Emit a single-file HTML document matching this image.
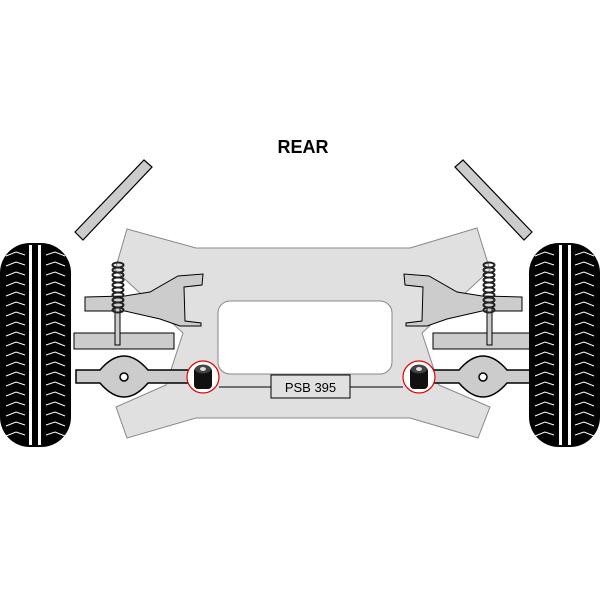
<!DOCTYPE html>
<html><head><style>body{margin:0;background:#fff}svg{display:block}</style></head><body>
<svg width="600" height="600" viewBox="0 0 600 600" xmlns="http://www.w3.org/2000/svg">
<defs>
<g id="tire">
<rect x="0" y="243" width="71" height="204" rx="30" fill="#000"/>
<rect x="29" y="245" width="3" height="200" fill="#fff"/>
<rect x="38" y="245" width="3" height="200" fill="#fff"/>
</g>
<g id="half">
<polygon points="75,232 144,160 152,167 83,240" fill="#ccc" stroke="#000" stroke-width="1.2"/>
<polygon points="85,297 125,296 150,292 178,276 203,274 202,285 184,287 185,321 201,323 201,326 180,326 160,319 125,311 85,311" fill="#ccc" stroke="#000" stroke-width="1"/>
<rect x="74" y="333" width="100" height="16" fill="#ccc" stroke="#000" stroke-width="1"/>
<rect x="115" y="308" width="5" height="37" fill="#ccc" stroke="#000" stroke-width="1"/>
<g fill="none" stroke="#222" stroke-width="2">
<ellipse cx="118" cy="265" rx="5.5" ry="2.5"/><ellipse cx="118" cy="270" rx="5.5" ry="2.5"/>
<ellipse cx="118" cy="275" rx="5.5" ry="2.5"/><ellipse cx="118" cy="280" rx="5.5" ry="2.5"/>
<ellipse cx="118" cy="285" rx="5.5" ry="2.5"/><ellipse cx="118" cy="290" rx="5.5" ry="2.5"/>
<ellipse cx="118" cy="295" rx="5.5" ry="2.5"/><ellipse cx="118" cy="300" rx="5.5" ry="2.5"/>
<ellipse cx="118" cy="305" rx="5.5" ry="2.5"/><ellipse cx="118" cy="310" rx="5.5" ry="2.5"/>
</g>
<path d="M76 370 L100 370 Q112 356 124 356 Q136 356 148 370 L190 370 L190 383 L148 383 Q136 397 124 397 Q112 397 100 383 L76 383 Z" fill="#ccc" stroke="#000" stroke-width="1.5"/>
<circle cx="124" cy="377" r="4" fill="#fff" stroke="#000" stroke-width="1.5"/>
</g>
<g id="bush">
<circle cx="0" cy="0" r="16" fill="#fff" stroke="#d00" stroke-width="1.2"/>
<rect x="-9" y="-10" width="18" height="22" rx="4" fill="#111"/>
<ellipse cx="0" cy="-8" rx="8" ry="4.5" fill="#444"/>
<ellipse cx="0" cy="-8" rx="3" ry="2" fill="#ddd"/>
</g>
</defs>
<text x="303" y="153" font-family="Liberation Sans, sans-serif" font-weight="bold" font-size="18" text-anchor="middle">REAR</text>
<path d="M127,229 L196,248 L410,248 L477,228 L490,270 L422,333 L439,385 L490,407 L478,438 L410,418 L196,418 L127,438 L116,407 L166,385 L183,333 L115,270 Z" fill="#e0e0e0" stroke="#888" stroke-width="1"/>
<rect x="218" y="301" width="174" height="73" rx="12" fill="#fff" stroke="#888" stroke-width="1"/>
<line x1="219" y1="387" x2="403" y2="387" stroke="#000" stroke-width="1"/>
<rect x="271" y="375" width="79" height="23" fill="#e0e0e0" stroke="#000" stroke-width="1"/>
<text x="310.5" y="392" font-family="Liberation Sans, sans-serif" font-size="13" text-anchor="middle">PSB 395</text>
<use href="#half"/>
<use href="#half" transform="translate(607,0) scale(-1,1)"/>
<use href="#bush" transform="translate(203,377)"/>
<use href="#bush" transform="translate(419,377)"/>
<use href="#tire"/>
<use href="#tire" transform="translate(600,0) scale(-1,1)"/>
<g stroke="#fff" stroke-width="1" fill="none">
<path d="M6 256 L16 252 L25 255 M46 255 L55 252 L65 256 M535 256 L545 252 L554 255 M575 255 L584 252 L594 256" id="r0"/>
</g>
<g stroke="#fff" stroke-width="1" fill="none">
<use href="#r0" y="10"/><use href="#r0" y="20"/><use href="#r0" y="30"/><use href="#r0" y="40"/>
<use href="#r0" y="50"/><use href="#r0" y="60"/><use href="#r0" y="70"/><use href="#r0" y="80"/>
<use href="#r0" y="90"/><use href="#r0" y="100"/><use href="#r0" y="110"/><use href="#r0" y="120"/>
<use href="#r0" y="130"/><use href="#r0" y="140"/><use href="#r0" y="150"/><use href="#r0" y="160"/>
<use href="#r0" y="170"/><use href="#r0" y="180"/>
</g>
</svg>
</body></html>
